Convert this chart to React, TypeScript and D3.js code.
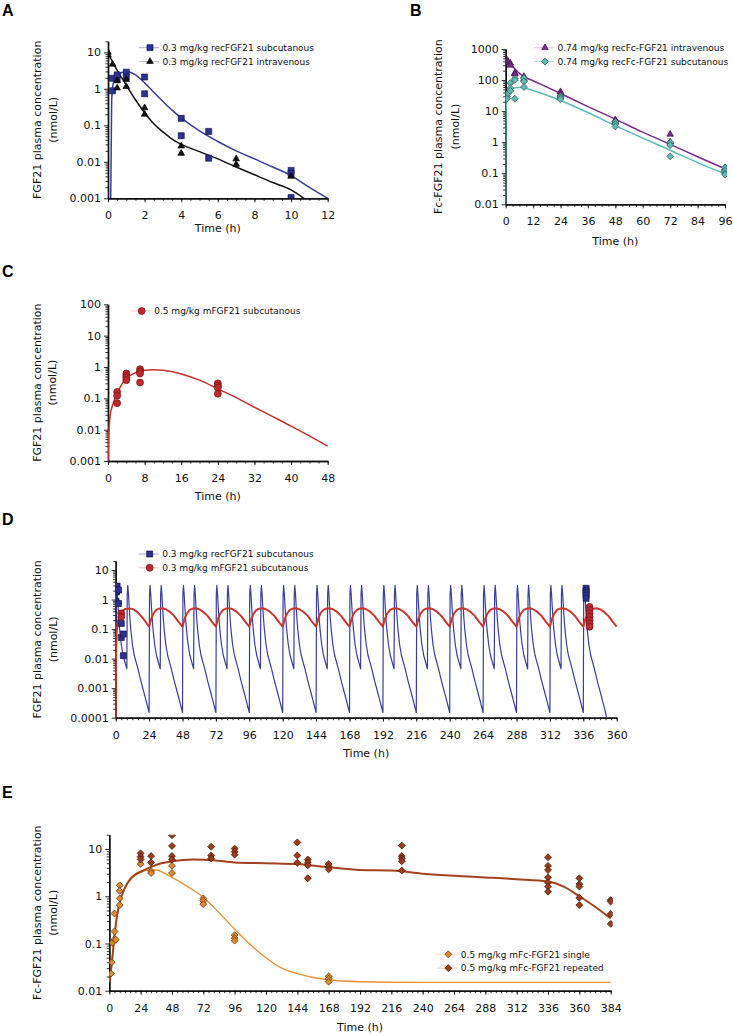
import React, { useEffect, useRef } from 'react';
import * as d3 from 'd3';

type Pt = [number, number];

// A: 0.3 mg/kg recFGF21
const aScPoints: Pt[] = [[0.25, 0.88], [0.25, 1.95], [0.5, 1.8], [0.5, 2.4], [1, 2.85], [1, 2.1], [2, 2.1], [2, 0.73], [4, 0.155], [4, 0.052], [5.5, 0.068], [5.5, 0.0126], [10, 0.0058], [10, 0.0048], [10, 0.00105]];
const aIvPoints: Pt[] = [[0, 10], [0, 8.5], [0.25, 4.7], [0.5, 1.65], [0.5, 1.05], [1, 1.8], [1, 1.15], [2, 0.3], [2, 0.2], [4, 0.027], [4, 0.017], [7, 0.012], [7, 0.0085], [10, 0.004]];
const aScCurve: Pt[] = [[0.15, 0.001], [0.2, 0.5], [0.3, 1.5], [0.5, 2.3], [0.75, 2.8], [1, 2.95], [1.25, 2.8], [1.5, 2.4], [2, 1.45], [2.5, 0.8], [3, 0.45], [3.5, 0.26], [4, 0.16], [5, 0.07], [6, 0.036], [7, 0.02], [8, 0.012], [9, 0.0072], [10, 0.0042], [11, 0.002], [12, 0.001]];
const aIvCurve: Pt[] = [[0, 9.5], [0.25, 5.5], [0.5, 3.2], [0.75, 2.0], [1, 1.25], [1.5, 0.5], [2, 0.22], [2.5, 0.11], [3, 0.066], [3.5, 0.042], [4, 0.03], [5, 0.019], [6, 0.012], [7, 0.0072], [8, 0.0044], [9, 0.0027], [10, 0.0017], [10.7, 0.001]];

// B: 0.74 mg/kg recFc-FGF21
const bIvPoints: Pt[] = [[0.5, 450], [0.5, 380], [1, 400], [2, 350], [2, 300], [4, 170], [4, 155], [8, 130], [8, 110], [24, 42], [24, 35], [24, 30], [48, 5.2], [48, 4.5], [72, 1.8], [72, 1.0], [96, 0.15], [96, 0.13]];
const bScPoints: Pt[] = [[0.5, 30], [0.5, 25], [1, 38], [2, 80], [2, 55], [2, 45], [4, 110], [4, 100], [4, 25], [8, 115], [8, 90], [8, 60], [24, 30], [24, 27], [24, 24], [48, 4.5], [48, 3.8], [48, 3.2], [72, 1.0], [72, 0.8], [72, 0.35], [96, 0.15], [96, 0.12], [96, 0.1], [96, 0.09]];
const bIvCurve: Pt[] = [[0, 480], [1, 400], [2, 330], [4, 230], [6, 165], [8, 130], [12, 95], [24, 37], [36, 14], [48, 5.5], [60, 2.1], [72, 0.85], [84, 0.34], [96, 0.14]];
const bScCurve: Pt[] = [[0, 0.01], [0.1, 5], [0.3, 18], [0.6, 30], [1, 40], [2, 50], [4, 57], [6, 58], [8, 56], [12, 46], [24, 22], [36, 9], [48, 3.4], [60, 1.35], [72, 0.55], [84, 0.22], [96, 0.095]];

// C: 0.5 mg/kg mFGF21
const cPoints: Pt[] = [[2, 0.16], [2, 0.12], [2, 0.07], [4, 0.62], [4, 0.52], [4, 0.45], [4, 0.38], [7, 0.85], [7, 0.72], [7, 0.62], [7, 0.32], [24, 0.3], [24, 0.25], [24, 0.22], [24, 0.14]];
const cCurve: Pt[] = [[0, 0.001], [0.1, 0.004], [0.5, 0.03], [1, 0.06], [2, 0.14], [3, 0.28], [4, 0.43], [6, 0.66], [8, 0.78], [10, 0.81], [12, 0.78], [16, 0.6], [20, 0.38], [24, 0.2], [28, 0.105], [32, 0.052], [36, 0.026], [40, 0.013], [44, 0.0063], [48, 0.003]];

// D: repeated dosing, 0.3 mg/kg
const dRecDoses = [0, 8, 24, 32, 48, 56, 72, 80, 96, 104, 120, 128, 144, 152, 168, 176, 192, 200, 216, 224, 240, 248, 264, 272, 288, 296, 312, 320, 336];
const dMDoses = [0, 24, 48, 72, 96, 120, 144, 168, 192, 216, 240, 264, 288, 312, 336];
const dRecProfile: Pt[] = [[0.3, 1.5], [0.7, 3.0], [1.2, 1.5], [1.7, 0.55], [2.3, 0.2], [2.9, 0.09], [4, 0.03], [5.3, 0.013], [8, 0.0045], [10, 0.0018], [12, 0.0008], [14, 0.00035], [16, 0.00015], [18, 0.00005], [24, 0.00001]];
const dMFirstProfile: Pt[] = [[0, 0.0001], [0.3, 0.02], [0.7, 0.08], [1.5, 0.18], [3, 0.3], [5, 0.42], [7, 0.48], [10, 0.5], [13, 0.46], [16, 0.36], [20, 0.22], [24, 0.12]];
const dMProfile: Pt[] = [[0, 0.12], [1.5, 0.22], [3, 0.33], [5, 0.44], [7, 0.49], [9.5, 0.51], [12, 0.47], [15, 0.38], [18, 0.28], [21, 0.18], [24, 0.12]];
const dRecPoints: Pt[] = [...aScPoints.filter(p => p[0] < 8), [338, 2.4], [338, 2.0], [338, 1.7], [338, 1.4], [338, 1.1]];
const dMPoints: Pt[] = [[4, 0.34], [4, 0.26], [340.5, 0.56], [340.5, 0.44], [340.5, 0.34], [340.5, 0.26], [340.5, 0.2], [340.5, 0.155], [340.5, 0.12]];

// E: 0.5 mg/kg mFc-FGF21
const eSinglePoints: Pt[] = [[1.3, 0.023], [1.8, 0.04], [2.3, 0.104], [4, 0.43], [4, 0.18], [4, 0.122], [5, 0.12], [8, 1.7], [8, 1.3], [8, 0.9], [8, 0.65], [24, 4.8], [32, 3.4], [32, 3.1], [48, 4.4], [48, 3.1], [72, 0.9], [72, 0.8], [72, 0.68], [96, 0.15], [96, 0.13], [96, 0.115], [168, 0.02], [168, 0.018], [168, 0.0155]];
const eRepeatPoints: Pt[] = [[24, 8.1], [24, 6.9], [24, 6.0], [32, 7.1], [32, 5.2], [48, 19.5], [48, 11.6], [48, 7.1], [48, 6.0], [78, 11.2], [78, 7.3], [78, 6.3], [96, 10.2], [96, 8.8], [96, 7.6], [144, 13.8], [144, 7.3], [144, 5.1], [152, 6.0], [152, 5.2], [152, 4.5], [152, 2.4], [168, 4.8], [168, 4.2], [168, 3.7], [224, 11.8], [224, 7.1], [224, 6.3], [224, 5.5], [224, 3.5], [336, 6.7], [336, 4.4], [336, 3.6], [336, 2.5], [336, 1.94], [336, 1.6], [336, 1.25], [360, 2.4], [360, 1.8], [360, 1.6], [360, 0.93], [360, 0.65], [384, 0.83], [384, 0.77], [384, 0.42], [384, 0.26]];
const eSingleCurve: Pt[] = [[0, 0.015], [2, 0.04], [4, 0.15], [6, 0.4], [8, 0.75], [12, 1.5], [16, 2.2], [20, 2.8], [24, 3.2], [30, 3.6], [36, 3.6], [42, 3.1], [48, 2.5], [60, 1.6], [72, 0.95], [84, 0.45], [96, 0.2], [108, 0.095], [120, 0.05], [132, 0.03], [144, 0.023], [156, 0.019], [168, 0.017], [192, 0.0155], [240, 0.015], [384, 0.015]];
const eRepeatCurve: Pt[] = [[0, 0.015], [2, 0.04], [4, 0.15], [6, 0.4], [8, 0.75], [12, 1.5], [16, 2.3], [20, 2.9], [24, 3.3], [32, 4.2], [40, 5.0], [48, 5.5], [64, 6.0], [80, 5.8], [96, 5.2], [120, 5.0], [144, 4.8], [168, 4.1], [192, 3.6], [216, 3.5], [240, 3.0], [264, 2.7], [288, 2.5], [312, 2.3], [336, 2.05], [348, 1.6], [360, 1.0], [372, 0.6], [384, 0.34]];

const FONT = '"DejaVu Sans", Verdana, sans-serif';

// log-interpolate a profile at dt
function interp(prof: Pt[], dt: number) {
  for (let i = 1; i < prof.length; i++) {
    const [t0, c0] = prof[i - 1];
    const [t1, c1] = prof[i];
    if (dt <= t1) {
      const f = (dt - t0) / (t1 - t0);
      return Math.exp(Math.log(c0) + f * (Math.log(c1) - Math.log(c0)));
    }
  }
  return prof[prof.length - 1][1];
}

function repeatDose(doses: number[], first: Pt[], prof: Pt[], end: number): Pt[] {
  const out: Pt[] = [];
  doses.forEach((d, i) => {
    const next = i < doses.length - 1 ? doses[i + 1] : end;
    const p = i === 0 ? first : prof;
    p.forEach(([dt, c]) => { if (d + dt < next) out.push([d + dt, c]); });
    out.push([next, interp(p, next - d)]);
  });
  return out;
}

const App = () => {
  const ref = useRef<SVGSVGElement>(null);

  useEffect(() => {
    const svg = d3.select(ref.current);
    svg.selectAll('*').remove();

    const panel = (p: any) => {
      const x = d3.scaleLinear().domain(p.xDomain).range(p.xRange);
      const y = d3.scaleLog().domain(p.yDomain).range(p.yRange);
      const yBase = p.yRange[0];

      svg.append('clipPath').attr('id', 'clip' + p.letter)
        .append('rect')
        .attr('x', p.xRange[0]).attr('y', p.yRange[1])
        .attr('width', p.xRange[1] - p.xRange[0] + 2)
        .attr('height', p.yRange[0] - p.yRange[1]);

      svg.append('text').text(p.letter)
        .attr('x', p.letterPos[0]).attr('y', p.letterPos[1])
        .attr('font-family', '"Liberation Sans", Arial, sans-serif')
        .attr('font-weight', 'bold').attr('font-size', 16);

      // minor ticks
      const xMinor = d3.range(p.xDomain[0], p.xDomain[1] + 1e-9, p.xMinor);
      const xMajor = d3.range(p.xDomain[0], p.xDomain[1] + 1e-9, p.xStep);
      const yMajor: number[] = [];
      const yMinor: number[] = [];
      for (let e = Math.round(Math.log10(p.yDomain[0])); e <= Math.log10(p.yDomain[1]) + 1e-9; e++) {
        const b = Math.pow(10, e);
        yMajor.push(+b.toPrecision(1));
        for (let k = 2; k <= 9; k++) if (k * b <= p.yDomain[1] * 1.0001) yMinor.push(k * b);
      }

      const gx = svg.append('g').attr('transform', `translate(0,${yBase})`);
      gx.append('g').call(d3.axisBottom(x).tickValues(xMinor).tickSize(2.5).tickSizeOuter(0).tickFormat(() => ''));
      gx.append('g').call(d3.axisBottom(x).tickValues(xMajor).tickSize(4).tickSizeOuter(0).tickPadding(9.2).tickFormat(d3.format('d')));

      const gy = svg.append('g').attr('transform', `translate(${p.xRange[0]},0)`);
      gy.append('g').call(d3.axisLeft(y).tickValues(yMinor).tickSize(2.5).tickSizeOuter(0).tickFormat(() => ''));
      gy.append('g').call(d3.axisLeft(y).tickValues(yMajor).tickSize(4).tickSizeOuter(0).tickPadding(3).tickFormat((d: any) => String(d)));

      [gx, gy].forEach(g => {
        g.selectAll('text').attr('font-family', FONT).attr('font-size', 11).attr('fill', '#111');
        g.selectAll('line').attr('stroke', '#111').attr('stroke-width', 0.9);
        g.selectAll('path.domain').attr('stroke', '#111').attr('stroke-width', 1.4);
      });

      svg.append('text').text('Time (h)')
        .attr('x', (p.xRange[0] + p.xRange[1]) / 2).attr('y', yBase + p.titleDy)
        .attr('text-anchor', 'middle').attr('font-family', FONT).attr('font-size', 11).attr('fill', '#111');

      const cy = (p.yRange[0] + p.yRange[1]) / 2;
      p.yLabel.forEach((t: string, i: number) => {
        svg.append('text').text(t)
          .attr('transform', `translate(${p.yLabelX[i]},${cy}) rotate(-90)`)
          .attr('text-anchor', 'middle').attr('font-family', FONT).attr('font-size', 11).attr('fill', '#111');
      });

      const plot = svg.append('g').attr('clip-path', `url(#clip${p.letter})`);
      return { x, y, plot };
    };

    const curve = (pp: any, pts: Pt[], color: string, w: number, smooth = true) => {
      const line = d3.line<Pt>()
        .x(d => pp.x(d[0]))
        .y(d => pp.y(Math.max(d[1], 1e-7)))
        .curve(smooth ? d3.curveMonotoneX : d3.curveLinear);
      pp.plot.append('path').attr('d', line(pts)).attr('fill', 'none')
        .attr('stroke', color).attr('stroke-width', w).attr('stroke-linejoin', 'round');
    };

    const symPath = (shape: string) => {
      if (shape === 'square') return { d: d3.symbol(d3.symbolSquare, 36)(), rot: 0 };
      if (shape === 'triangle') return { d: d3.symbol(d3.symbolTriangle, 19)(), rot: 0 };
      if (shape === 'diamond') return { d: d3.symbol(d3.symbolSquare, 24)(), rot: 45 };
      return { d: d3.symbol(d3.symbolCircle, 38)(), rot: 0 };
    };

    const points = (g: any, x: any, y: any, pts: Pt[], shape: string, fill: string, stroke: string) => {
      const s = symPath(shape);
      g.selectAll(null).data(pts).enter().append('path')
        .attr('d', s.d)
        .attr('transform', (d: Pt) => `translate(${x(d[0])},${y(d[1])}) rotate(${s.rot})`)
        .attr('fill', fill).attr('stroke', stroke).attr('stroke-width', 0.7);
    };

    const legend = (lx: number, ly: number, rows: any[]) => {
      rows.forEach((r, i) => {
        const yy = ly + i * 13.8;
        svg.append('line').attr('x1', lx - 11).attr('x2', lx + 9).attr('y1', yy).attr('y2', yy)
          .attr('stroke', r.line).attr('stroke-opacity', 0.45).attr('stroke-width', 1);
        points(svg.append('g'), (v: number) => v, (v: number) => v, [[lx, yy]], r.shape, r.fill, r.stroke);
        svg.append('text').text(r.label).attr('x', lx + 12.5).attr('y', yy + 3.3)
          .attr('font-family', FONT).attr('font-size', 9).attr('fill', '#111');
      });
    };

    // A
    const A = panel({ letter: 'A', letterPos: [2, 16], xDomain: [0, 12], xRange: [108, 327.7], yDomain: [0.001, 20], yRange: [198.3, 41.3], xStep: 2, xMinor: 0.5, titleDy: 34, yLabel: ['FGF21 plasma concentration', '(nmol/L)'], yLabelX: [41, 57] });
    curve(A, aScCurve, '#3a3d9a', 1.5);
    curve(A, aIvCurve, '#111', 1.5);
    points(A.plot, A.x, A.y, aScPoints, 'square', '#2e3192', '#15164a');
    points(A.plot, A.x, A.y, aIvPoints, 'triangle', '#111', '#000');
    legend(150, 47.7, [
      { label: '0.3 mg/kg recFGF21 subcutanous', shape: 'square', fill: '#2e3192', stroke: '#15164a', line: '#3a3d9a' },
      { label: '0.3 mg/kg recFGF21 intravenous', shape: 'triangle', fill: '#111', stroke: '#000', line: '#777' },
    ]);

    // B
    const B = panel({ letter: 'B', letterPos: [410, 16], xDomain: [0, 96], xRange: [505.7, 725], yDomain: [0.01, 1000], yRange: [204.3, 49], xStep: 12, xMinor: 3, titleDy: 41, yLabel: ['Fc-FGF21 plasma concentration', '(nmol/L)'], yLabelX: [442, 459] });
    curve(B, bIvCurve, '#7b2d8b', 1.5);
    curve(B, bScCurve, '#5cbab5', 1.5);
    points(B.plot, B.x, B.y, bIvPoints, 'triangle', '#7b2d8b', '#3d1446');
    points(B.plot, B.x, B.y, bScPoints, 'diamond', '#62b8b2', '#2d5f5c');
    legend(545, 47.7, [
      { label: '0.74 mg/kg recFc-FGF21 intravenous', shape: 'triangle', fill: '#7b2d8b', stroke: '#3d1446', line: '#b58cc0' },
      { label: '0.74 mg/kg recFc-FGF21 subcutanous', shape: 'diamond', fill: '#62b8b2', stroke: '#2d5f5c', line: '#62b8b2' },
    ]);

    // C
    const C = panel({ letter: 'C', letterPos: [2, 277], xDomain: [0, 48], xRange: [108, 327.7], yDomain: [0.001, 100], yRange: [461, 304.3], xStep: 8, xMinor: 2, titleDy: 39, yLabel: ['FGF21 plasma concentration', '(nmol/L)'], yLabelX: [41, 56] });
    curve(C, cCurve, '#c8302c', 1.5);
    points(C.plot, C.x, C.y, cPoints, 'circle', '#c1272d', '#6e1515');
    legend(141.7, 311, [
      { label: '0.5 mg/kg mFGF21 subcutanous', shape: 'circle', fill: '#c1272d', stroke: '#6e1515', line: '#d87b7b' },
    ]);

    // D
    const D = panel({ letter: 'D', letterPos: [2, 525], xDomain: [0, 360], xRange: [115.7, 616.7], yDomain: [0.0001, 20], yRange: [717.7, 561.1], xStep: 24, xMinor: 4, titleDy: 39, yLabel: ['FGF21 plasma concentration', '(nmol/L)'], yLabelX: [41, 57] });
    curve(D, repeatDose(dRecDoses, [[0, 0.0001], ...dRecProfile], dRecProfile, 360), '#3a3d9a', 1.2, false);
    curve(D, repeatDose(dMDoses, dMFirstProfile, dMProfile, 360), '#c8372d', 2, false);
    points(D.plot, D.x, D.y, dRecPoints, 'square', '#2e3192', '#15164a');
    points(D.plot, D.x, D.y, dMPoints, 'circle', '#c1272d', '#6e1515');
    legend(149.7, 554, [
      { label: '0.3 mg/kg recFGF21 subcutanous', shape: 'square', fill: '#2e3192', stroke: '#15164a', line: '#3a3d9a' },
      { label: '0.3 mg/kg mFGF21 subcutanous', shape: 'circle', fill: '#c1272d', stroke: '#6e1515', line: '#d87b7b' },
    ]);

    // E
    const E = panel({ letter: 'E', letterPos: [2, 798], xDomain: [0, 384], xRange: [109.3, 610.7], yDomain: [0.01, 20], yRange: [990.7, 834.8], xStep: 24, xMinor: 4, titleDy: 40, yLabel: ['Fc-FGF21 plasma concentration', '(nmol/L)'], yLabelX: [41, 57] });
    curve(E, eSingleCurve, '#e8923a', 1.4);
    curve(E, eRepeatCurve, '#a3421e', 2);
    points(E.plot, E.x, E.y, eSinglePoints, 'diamond', '#dd8a2e', '#5a3310');
    points(E.plot, E.x, E.y, eRepeatPoints, 'diamond', '#9c3d1c', '#3d1608');
    legend(448.3, 954.3, [
      { label: '0.5 mg/kg mFc-FGF21 single', shape: 'diamond', fill: '#dd8a2e', stroke: '#5a3310', line: '#e8b27a' },
      { label: '0.5 mg/kg mFc-FGF21 repeated', shape: 'diamond', fill: '#9c3d1c', stroke: '#3d1608', line: '#c98a70' },
    ]);
  }, []);

  return (
    <svg ref={ref} width={733} height={1036}
      style={{ position: 'absolute', left: 0, top: 0, background: '#fff' }} />
  );
};

export default App;
